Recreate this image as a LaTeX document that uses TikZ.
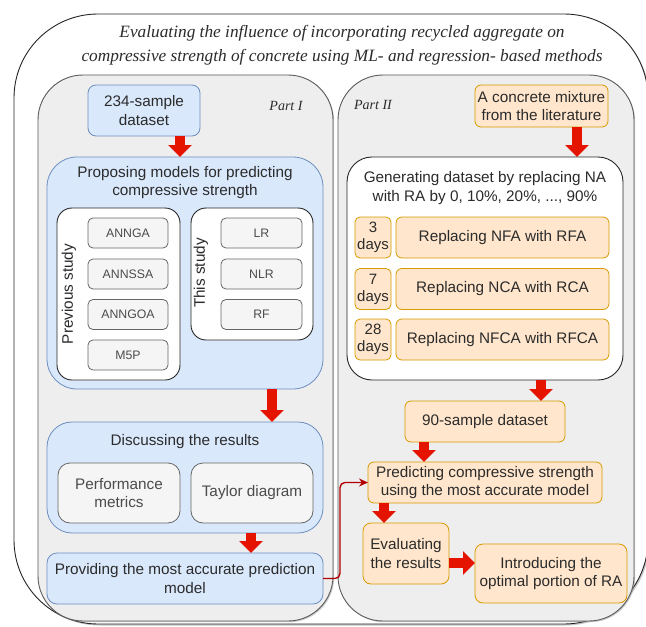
\documentclass[tikz,border=0pt]{standalone}
\usepackage{fontspec}
\setmainfont{Liberation Sans}
\newfontfamily\serifit{Liberation Serif}
\usetikzlibrary{arrows.meta,shadows}
\definecolor{partgray}{HTML}{EEEEEE}
\definecolor{partline}{HTML}{5A5A5A}
\definecolor{bluefill}{HTML}{DAE8FC}
\definecolor{blueline}{HTML}{6C8EBF}
\definecolor{orfill}{HTML}{FFE6CC}
\definecolor{orline}{HTML}{D79B00}
\definecolor{grfill}{HTML}{F5F5F5}
\definecolor{grline}{HTML}{666666}
\definecolor{txt}{HTML}{2B2B2B}
\definecolor{fatred}{HTML}{E51400}
\definecolor{connred}{HTML}{B20000}
\begin{document}
\begin{tikzpicture}[x=1pt,y=-1pt,
  every node/.style={inner sep=0pt,outer sep=0pt,align=center,text=txt,
    font=\fontsize{15.3}{18.5}\selectfont},
  outerbox/.style={draw=black!85,line width=0.9pt,rounded corners=84pt,fill=white,
    drop shadow={shadow xshift=1.5pt,shadow yshift=-1.5pt,fill=black!45}},
  partbox/.style={draw=partline,line width=0.9pt,fill=partgray,rounded corners=45pt,
    drop shadow={shadow xshift=1.2pt,shadow yshift=-1.2pt,fill=black!40}},
  bluebox/.style={draw=blueline,line width=0.8pt,fill=bluefill,rounded corners=8pt},
  orbox/.style={draw=orline,line width=0.8pt,fill=orfill,rounded corners=6pt},
  graybox/.style={draw=grline,line width=0.8pt,fill=grfill,rounded corners=5pt,
    text=txt!85,font=\fontsize{12.3}{14}\selectfont},
  whitebox/.style={draw=black!85,line width=0.9pt,fill=white,rounded corners=15pt},
  dimsz/.style 2 args={minimum width=#1,minimum height=#2},
  fat/.style={draw=fatred,line width=10pt,-{Triangle[width=23pt,length=12pt]}},
  conn/.style={draw=connred,line width=1.4pt,rounded corners=5pt,
    -{Stealth[length=9pt,width=8pt]}},
  partlabel/.style={font=\serifit\itshape\fontsize{14}{16}\selectfont},
]
\useasboundingbox (0,0) rectangle (646,627);
\clip (0,0) rectangle (646,627);

% outer frame and title
\node[outerbox,dimsz={634pt}{610pt}] (outer) at (331,319) {};
\node[font=\serifit\itshape\fontsize{17.3}{24}\selectfont] (title) at (342,45)
  {Evaluating the influence of incorporating recycled aggregate on\\
   compressive strength of concrete using ML- and regression- based methods};

% parts
\node[partbox,dimsz={295pt}{546pt}] (p1) at (185.5,348) {};
\node[partbox,dimsz={296pt}{546pt}] (p2) at (486,348) {};
\node[partlabel] (p1l) at (286,106) {Part I};
\node[partlabel] (p2l) at (373,105) {Part II};

% ---------- Part I ----------
\node[bluebox,dimsz={112pt}{51pt}] (ds) at (144,110.5) {234-sample\\dataset};
\node[bluebox,rounded corners=30pt,dimsz={276pt}{232pt}] (prop) at (185,273) {};
\node (propt) at (185,182.5) {Proposing models for predicting\\compressive strength};
\node[whitebox,dimsz={123pt}{172pt}] (prev) at (118.5,294) {};
\node[rotate=90] (prevl) at (69,294) {Previous study};
\node[graybox,dimsz={80pt}{30pt}] (m1) at (128,233) {ANNGA};
\node[graybox,dimsz={80pt}{30pt}] (m2) at (128,274) {ANNSSA};
\node[graybox,dimsz={80pt}{30pt}] (m3) at (128,314.5) {ANNGOA};
\node[graybox,dimsz={80pt}{30pt}] (m4) at (128,355) {M5P};
\node[whitebox,dimsz={122pt}{132pt}] (this) at (252,274) {};
\node[rotate=90] (thisl) at (201,273) {This study};
\node[graybox,dimsz={81pt}{30pt}] (s1) at (261.5,233) {LR};
\node[graybox,dimsz={81pt}{30pt}] (s2) at (261.5,274) {NLR};
\node[graybox,dimsz={81pt}{30pt}] (s3) at (261.5,314.5) {RF};

\node[bluebox,rounded corners=25pt,dimsz={276pt}{111pt}] (disc) at (185,477.5) {};
\node (disct) at (185,442) {Discussing the results};
\node[graybox,rounded corners=12pt,font=\fontsize{15.3}{18.5}\selectfont,dimsz={122pt}{60pt}] (perf) at (119,493) {Performance\\metrics};
\node[graybox,rounded corners=12pt,font=\fontsize{15.3}{18.5}\selectfont,dimsz={122pt}{60pt}] (tay) at (252,493) {Taylor diagram};
\node[bluebox,rounded corners=10pt,dimsz={276pt}{51pt}] (prov) at (185,578.5)
  {Providing the most accurate prediction\\model};

% ---------- Part II ----------
\node[orbox,dimsz={133pt}{42pt}] (conc) at (541.5,106) {A concrete mixture\\from the literature};
\node[whitebox,rounded corners=25pt,dimsz={276pt}{223pt}] (gen) at (485,268.5) {};
\node (gent) at (485,188) {Generating dataset by replacing NA\\with RA by 0, 10\%, 20\%, ..., 90\%};
\node[orbox,rounded corners=5pt,dimsz={36pt}{41pt},font=\fontsize{15}{17}\selectfont] (d3) at (373,237.5) {3\\days};
\node[orbox,dimsz={213pt}{41pt}] (r1) at (502.5,237.5) {Replacing NFA with RFA};
\node[orbox,rounded corners=5pt,dimsz={36pt}{41pt},font=\fontsize{15}{17}\selectfont] (d7) at (373,289) {7\\days};
\node[orbox,dimsz={213pt}{41pt}] (r2) at (502.5,289) {Replacing NCA with RCA};
\node[orbox,rounded corners=5pt,dimsz={36pt}{41pt},font=\fontsize{15}{17}\selectfont] (d28) at (373,339.5) {28\\days};
\node[orbox,dimsz={213pt}{41pt}] (r3) at (502.5,339.5) {Replacing NFCA with RFCA};
\node[orbox,dimsz={160pt}{41pt}] (n90) at (485,421.5) {90-sample dataset};
\node[orbox,dimsz={234pt}{41pt}] (pred) at (485,482.5) {Predicting compressive strength\\using the most accurate model};
\node[orbox,rounded corners=8pt,dimsz={86pt}{61pt}] (eval) at (406,553.5) {Evaluating\\the results};
\node[orbox,rounded corners=8pt,dimsz={152pt}{59pt}] (intro) at (551,573.5) {Introducing the\\optimal portion of RA};

% arrow guide coordinates
\coordinate (xa) at (180,0);
\coordinate (xb) at (272,0);
\coordinate (xc) at (251,0);
\coordinate (xd) at (577,0);
\coordinate (xe) at (541,0);
\coordinate (xf) at (424,0);
\coordinate (xg) at (384,0);
\coordinate (ya) at (0,563);
\coordinate (bend) at (340,0);

% fat arrows
\draw[fat] (ds.south -| xa) -- (prop.north -| xa);
\draw[fat] (prop.south -| xb) -- (disc.north -| xb);
\draw[fat] (disc.south -| xc) -- (prov.north -| xc);
\draw[fat] (conc.south -| xd) -- (gen.north -| xd);
\draw[fat] (gen.south -| xe) -- (n90.north -| xe);
\draw[fat] (n90.south -| xf) -- (pred.north -| xf);
\draw[fat] (pred.south -| xg) -- (eval.north -| xg);
\draw[fat] (eval.east |- ya) -- (intro.west |- ya);

% thin connector
\draw[conn] (prov.east) -- (prov.east -| bend) -- (bend |- pred.west) -- (pred.west);
\end{tikzpicture}
\end{document}
